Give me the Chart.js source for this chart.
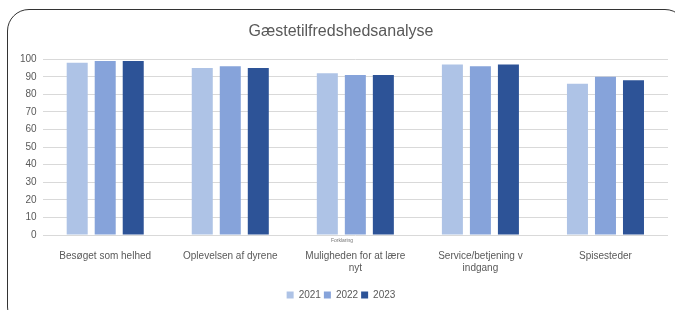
<!DOCTYPE html>
<html>
<head>
<meta charset="utf-8">
<script src="https://cdn.jsdelivr.net/npm/chart.js@4"></script>
<style>
  html, body { margin: 0; padding: 0; background: #fff; }
  #wrap { position: relative; width: 675px; height: 310px; overflow: hidden; }
  #frame {
    position: absolute; left: 7px; top: 9px; width: 680px; height: 320px;
    border: 1.5px solid #333; border-radius: 22px; box-sizing: border-box;
  }
  canvas { position: absolute; left: 0; top: 0; }
</style>
</head>
<body>
<div id="wrap">
  <div id="frame"></div>
  <canvas id="myChart" width="675" height="310"></canvas>
</div>
<script>
var categories = [
  "Besøget som helhed",
  "Oplevelsen af dyrene",
  ["Muligheden for at lære", "nyt"],
  ["Service/betjening v", "indgang"],
  "Spisesteder"
];
var years = ["2021", "2022", "2023"];
var values2021 = [98, 95, 92, 97, 86];
var values2022 = [99, 96, 91, 96, 90];
var values2023 = [99, 95, 91, 97, 88];
var yTicks = [0, 10, 20, 30, 40, 50, 60, 70, 80, 90, 100];

var textGray = "#595959";
var font = "'Liberation Sans', Arial, sans-serif";

var noteLabel = {
  id: "noteLabel",
  afterDraw: function (chart) {
    var c = chart.ctx;
    c.save();
    c.font = "5px " + font;
    c.fillStyle = "#777";
    c.textAlign = "center";
    c.textBaseline = "middle";
    c.fillText("Forklaring", 342, 241);
    c.restore();
  }
};

var ctx = document.getElementById("myChart");
var myChart = new Chart(ctx, {
  type: "bar",
  data: {
    labels: categories,
    datasets: [
      { label: years[0], data: values2021, backgroundColor: "#aec3e6" },
      { label: years[1], data: values2022, backgroundColor: "#86a3da" },
      { label: years[2], data: values2023, backgroundColor: "#2d5397" }
    ]
  },
  options: {
    responsive: false,
    animation: false,
    categoryPercentage: 0.672,
    barPercentage: 0.75,
    layout: { padding: { left: 14, right: 7, top: 6, bottom: 0 } },
    scales: {
      x: {
        grid: { display: false },
        border: { display: false },
        afterFit: function (axis) { axis.height += 6; },
        ticks: {
          color: textGray,
          font: { family: font, size: 10 },
          maxRotation: 0,
          autoSkip: false,
          padding: 7
        }
      },
      y: {
        min: 0,
        max: 100,
        afterBuildTicks: function (axis) {
          axis.ticks = yTicks.map(function (v) { return { value: v }; });
        },
        grid: { color: "#d9d9d9", drawTicks: false },
        border: { display: false },
        ticks: {
          color: textGray,
          font: { family: font, size: 10 },
          padding: 6
        }
      }
    },
    plugins: {
      title: {
        display: true,
        text: "Gæstetilfredshedsanalyse",
        color: textGray,
        font: { family: font, size: 16, weight: "normal" },
        padding: { top: 16, bottom: 18 }
      },
      legend: {
        position: "bottom",
        labels: {
          color: textGray,
          font: { family: font, size: 10 },
          boxWidth: 7,
          boxHeight: 7,
          padding: 3
        }
      },
      tooltip: { enabled: false }
    }
  },
  plugins: [noteLabel]
});
</script>
</body>
</html>
